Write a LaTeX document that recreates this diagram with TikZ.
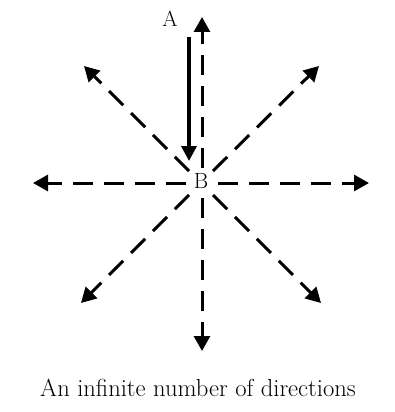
\documentclass[tikz,border=0pt]{standalone}
\usepackage{fontspec}
\usetikzlibrary{arrows.meta}
\begin{document}
\begin{tikzpicture}[x=1pt,y=-1pt,
  dir/.style={line width=3pt,dash pattern=on 20pt off 11pt,-{Triangle[length=15pt,width=16pt]}},
  solidarrow/.style={line width=3.5pt,-{Triangle[length=15pt,width=15pt]}},
  lbl/.style={font=\fontsize{22}{26}\selectfont,inner sep=1pt}]
\useasboundingbox (0,0) rectangle (395,412);
\coordinate (C) at (200,183);
\node[lbl] (B) at (201,181) {B};
\node[lbl] (A) at (170,19) {A};
\coordinate (n) at (202,17);
\coordinate (s) at (202,351);
\coordinate (w) at (33,183);
\coordinate (e) at (369,183);
\coordinate (nw) at (84,66);
\coordinate (ne) at (319,66);
\coordinate (sw) at (81,303);
\coordinate (se) at (321,303);
\coordinate (n0) at (202,168);
\coordinate (s0) at (202,198);
\coordinate (w0) at (186,183);
\coordinate (e0) at (218,183);
\coordinate (nw0) at (189,171);
\coordinate (ne0) at (213,171);
\coordinate (sw0) at (189,195);
\coordinate (se0) at (213,195);
\draw[dir] (n0) -- (n);
\draw[dir] (s0) -- (s);
\draw[dir] (w0) -- (w);
\draw[dir] (e0) -- (e);
\draw[dir] (nw0) -- (nw);
\draw[dir] (ne0) -- (ne);
\draw[dir] (sw0) -- (sw);
\draw[dir] (se0) -- (se);
\coordinate (a0) at (189,37);
\coordinate (a1) at (189,161);
\draw[solidarrow] (a0) -- (a1);
\node (cap) at (198,388) {\fontsize{24.6}{29}\selectfont An infinite number of directions};
\end{tikzpicture}
\end{document}
